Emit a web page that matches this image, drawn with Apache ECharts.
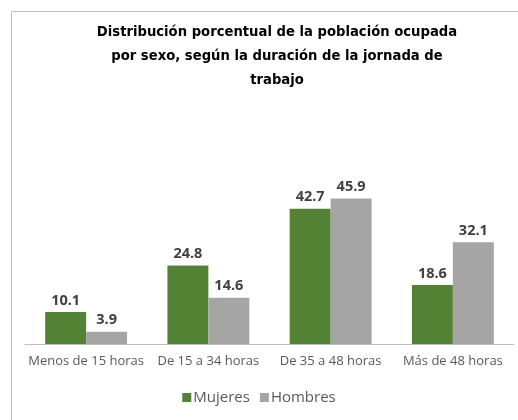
<!DOCTYPE html>
<html><head><meta charset="utf-8">
<script src="https://cdn.jsdelivr.net/npm/echarts@6/dist/echarts.min.js"></script>
<style>html,body{margin:0;padding:0;background:#fff}#c{width:518px;height:420px}</style>
</head><body><div id="c"></div>
<script>
const categories = ['Menos de 15 horas', 'De 15 a 34 horas', 'De 35 a 48 horas', 'Más de 48 horas'];
const mujeres = [10.1, 24.8, 42.7, 18.6];
const hombres = [3.9, 14.6, 45.9, 32.1];
const titleText = 'Distribución porcentual de la población ocupada\npor sexo, según la duración de la jornada de\ntrabajo';

const chart = echarts.init(document.getElementById('c'));
const labelStyle = {show: true, position: 'top', distance: 4, color: '#404040', fontWeight: 'bold', fontSize: 14.5, fontFamily: 'Open Sans'};
chart.setOption({
  animation: false,
  graphic: [{type: 'rect', shape: {x: 11.5, y: 11.5, width: 520, height: 420}, style: {fill: 'none', stroke: '#bfbfbf', lineWidth: 1}}],
  title: {text: titleText, left: 272, top: 16, textAlign: 'center',
    textStyle: {fontFamily: 'DejaVu Sans', fontSize: 13.2, fontWeight: 'bold', color: '#000', lineHeight: 24, align: 'center'}},
  legend: {bottom: 10, left: 'center', itemWidth: 9, itemHeight: 9, itemGap: 10, icon: 'rect',
    textStyle: {fontFamily: 'Open Sans', fontSize: 15, color: '#595959', padding: [0, 0, 0, -3]},
    data: ['Mujeres', 'Hombres']},
  grid: {left: 25, right: 4, top: 185.5, bottom: 76},
  xAxis: {type: 'category', data: categories,
    axisLine: {lineStyle: {color: '#bfbfbf', width: 1}}, axisTick: {show: false},
    axisLabel: {color: '#595959', fontFamily: 'Open Sans', fontSize: 13, margin: 11, interval: 0}},
  yAxis: {type: 'value', min: 0, max: 50, show: false, splitLine: {show: false}},
  series: [
    {name: 'Mujeres', type: 'bar', data: mujeres, itemStyle: {color: '#548235'}, barGap: '0%', barCategoryGap: '33%', label: labelStyle},
    {name: 'Hombres', type: 'bar', data: hombres, itemStyle: {color: '#a5a5a5'}, label: labelStyle}
  ]
});
</script></body></html>
